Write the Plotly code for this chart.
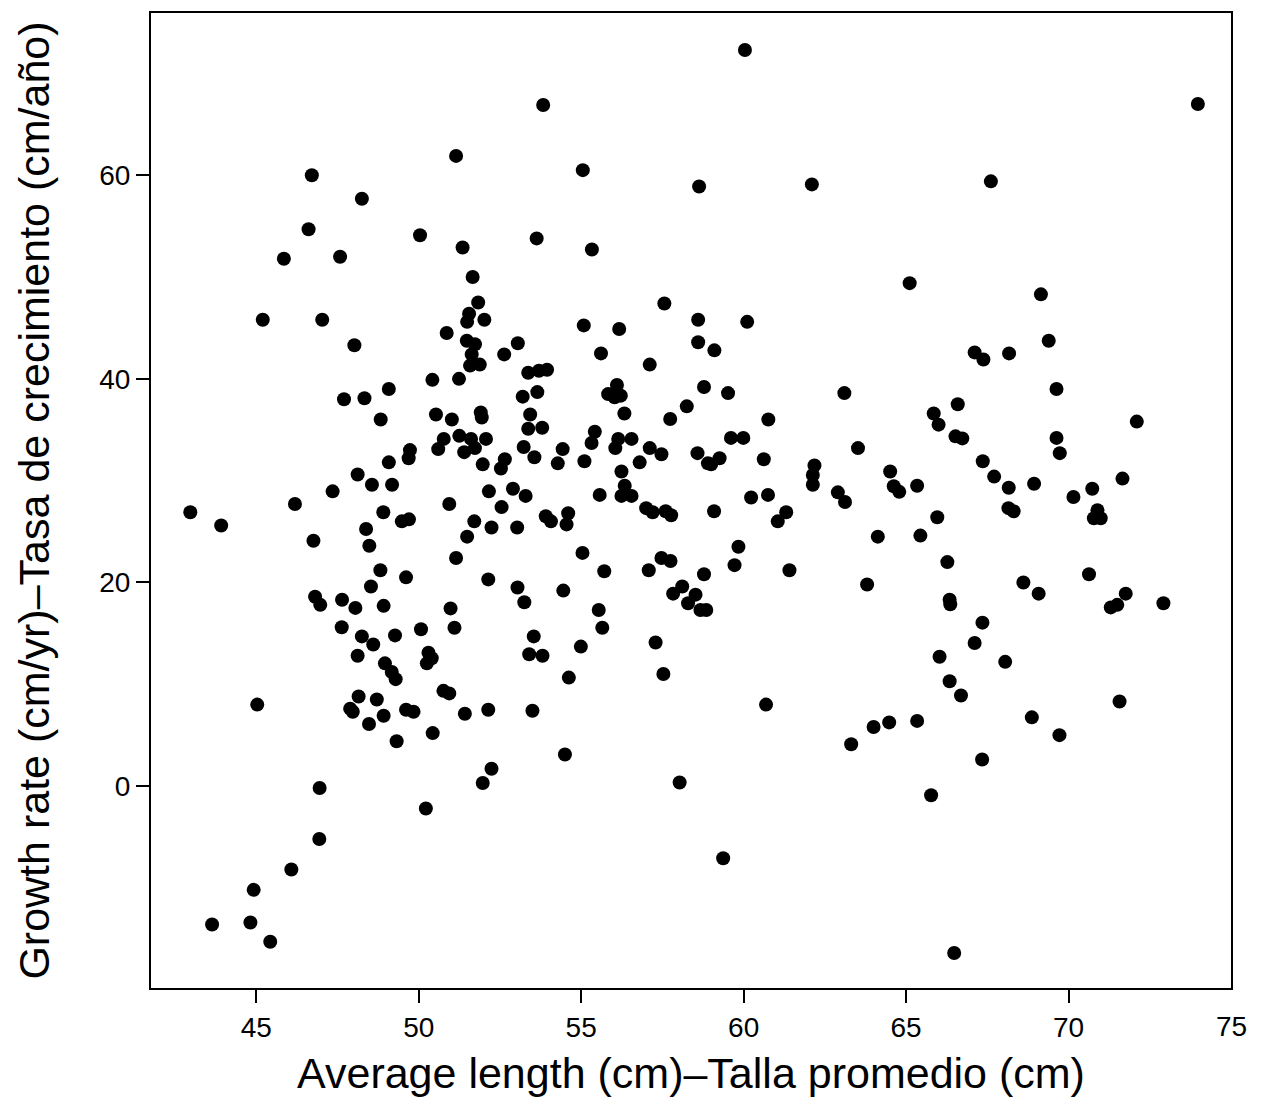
import plotly.graph_objects as go

# Average length (cm) and growth rate (cm/yr)
length_cm = [
    51.15, 46.71, 48.25, 46.61, 50.04, 45.85, 47.58, 51.35, 51.66, 45.2, 47.03, 51.83, 51.55, 51.49, 52.02,
    50.86, 48.02, 51.48, 51.73, 51.63, 51.58, 51.88, 52.63, 50.42, 51.24, 49.08, 47.7, 48.33, 48.83, 50.53,
    51.02, 51.91, 51.94, 50.77, 50.6, 51.25, 51.61, 51.4, 51.73, 52.07, 49.73, 49.69, 49.08, 51.97, 52.65,
    52.53, 48.12, 48.56, 49.18, 47.35, 52.16,
    60.04, 53.83, 55.05, 58.63, 62.1, 53.63, 55.33, 57.56, 55.08, 56.17, 58.6, 60.11, 53.05, 58.6, 59.1,
    55.61, 57.11, 53.37, 53.7, 53.95, 53.2, 53.65, 56.1, 55.83, 56.03, 56.22, 58.78, 59.52, 63.1, 53.43,
    56.33, 58.25, 57.74, 60.76, 53.37, 53.8, 55.42, 55.32, 56.14, 56.55, 56.05, 57.11, 57.47, 59.61, 59.99,
    53.23, 54.43, 53.56, 54.28, 55.1, 56.8, 56.24, 58.58, 58.9, 59.0, 59.26, 60.62, 63.52, 62.18, 62.13,
    62.13, 62.9, 63.12, 52.9, 53.29, 55.57, 56.34, 56.24, 56.55, 60.23, 60.75,
    73.98, 67.61, 65.11, 69.15, 69.39, 67.11, 67.38, 68.17, 69.63, 66.59, 65.85, 66.0, 66.52, 66.73, 72.1,
    69.63, 69.73, 67.36, 64.51, 64.62, 64.79, 65.34, 67.71, 68.16, 68.94, 70.73, 71.66, 70.15,
    42.97, 43.92, 46.19, 46.76, 48.91, 49.48, 49.7, 48.38, 48.48, 50.94, 52.55, 51.71, 52.24, 51.49, 51.15,
    52.14, 48.82, 49.61, 48.53, 46.81, 46.97, 47.64, 48.05, 48.92, 50.98, 47.63, 48.25, 48.6, 49.27, 50.07,
    51.1, 48.12, 48.96, 49.17, 49.29, 50.3, 50.4, 50.25, 50.76, 50.94, 45.03, 48.15, 48.71, 47.89, 47.97,
    48.47, 48.92, 49.61, 49.84, 51.42, 52.14, 50.43, 49.32, 52.24, 51.97, 46.95, 50.22, 46.94, 46.08, 44.92,
    43.64, 44.82, 45.43,
    53.03, 53.91, 54.07, 54.6, 54.55, 57.0, 57.2, 57.6, 57.77, 59.09, 61.31, 61.05, 53.04, 53.25, 55.04,
    55.71, 54.45, 57.47, 57.75, 57.08, 58.78, 59.84, 59.72, 61.41, 63.8, 58.11, 57.83, 58.52, 58.29, 58.67,
    58.85, 55.54, 55.65, 53.54, 53.4, 53.81, 54.99, 57.29, 54.62, 57.53, 60.69, 64.0, 63.31, 53.5, 54.5,
    58.03, 59.37,
    68.15, 68.31, 70.89, 70.78, 70.99, 65.96, 64.13, 65.44, 66.27, 68.61, 69.08, 70.63, 66.34, 66.36, 71.76,
    71.3, 71.5, 72.92, 67.35, 67.11, 66.03, 68.05, 66.34, 66.69, 71.57, 64.48, 65.34, 68.87, 69.72, 67.34,
    65.77, 66.48,
]
growth_cm_yr = [
    61.9, 60.0, 57.7, 54.7, 54.1, 51.8, 52.0, 52.9, 50.0, 45.8, 45.8, 47.5, 46.4, 45.6, 45.8,
    44.5, 43.3, 43.75, 43.4, 42.4, 41.3, 41.4, 42.4, 39.9, 40.0, 39.0, 38.0, 38.1, 36.0, 36.5,
    36.0, 36.7, 36.2, 34.1, 33.1, 34.4, 34.1, 32.8, 33.2, 34.1, 33.0, 32.2, 31.8, 31.6, 32.1,
    31.2, 30.6, 29.6, 29.6, 28.95, 28.95,
    72.3, 66.9, 60.5, 58.9, 59.1, 53.8, 52.7, 47.4, 45.25, 44.9, 45.8, 45.6, 43.5, 43.6, 42.8,
    42.5, 41.4, 40.6, 40.8, 40.9, 38.25, 38.7, 39.4, 38.5, 38.2, 38.35, 39.2, 38.6, 38.6, 36.5,
    36.6, 37.3, 36.05, 36.0, 35.1, 35.2, 34.8, 33.7, 34.1, 34.1, 33.2, 33.2, 32.6, 34.2, 34.2,
    33.3, 33.1, 32.3, 31.7, 31.9, 31.8, 30.9, 32.7, 31.7, 31.6, 32.2, 32.1, 33.2, 31.5, 30.55,
    29.6, 28.85, 27.9, 29.2, 28.5, 28.6, 29.5, 28.5, 28.5, 28.35, 28.6,
    67.0, 59.4, 49.4, 48.3, 43.75, 42.6, 41.9, 42.5, 39.0, 37.5, 36.6, 35.5, 34.35, 34.15, 35.8,
    34.2, 32.7, 31.9, 30.9, 29.45, 28.9, 29.5, 30.4, 29.3, 29.7, 29.2, 30.2, 28.4,
    26.9, 25.6, 27.7, 24.1, 26.9, 26.0, 26.2, 25.25, 23.6, 27.7, 27.4, 26.0, 25.4, 24.5, 22.4,
    20.3, 21.2, 20.5, 19.6, 18.6, 17.8, 18.3, 17.5, 17.7, 17.45, 15.6, 14.7, 13.9, 14.8, 15.4,
    15.55, 12.8, 12.05, 11.2, 10.5, 13.1, 12.55, 12.05, 9.35, 9.1, 8.0, 8.8, 8.5, 7.6, 7.3,
    6.1, 6.9, 7.5, 7.3, 7.1, 7.5, 5.2, 4.4, 1.7, 0.3, -0.2, -2.2, -5.2, -8.2, -10.2,
    -13.6, -13.4, -15.3,
    25.4, 26.5, 26.0, 26.8, 25.7, 27.3, 26.9, 27.0, 26.6, 27.0, 26.9, 26.0, 19.5, 18.05, 22.9,
    21.1, 19.2, 22.4, 22.1, 21.2, 20.8, 23.5, 21.7, 21.2, 19.8, 19.6, 18.9, 18.8, 17.95, 17.3,
    17.3, 17.3, 15.55, 14.7, 12.95, 12.8, 13.7, 14.1, 10.65, 11.0, 8.0, 5.8, 4.1, 7.4, 3.1,
    0.35, -7.1,
    27.3, 27.0, 27.1, 26.3, 26.3, 26.4, 24.5, 24.6, 22.0, 20.0, 18.9, 20.8, 18.3, 17.85, 18.9,
    17.55, 17.8, 17.95, 16.05, 14.05, 12.7, 12.2, 10.3, 8.9, 8.3, 6.25, 6.4, 6.75, 5.0, 2.6,
    -0.9, -16.4,
]

x_ticks = [45, 50, 55, 60, 65, 70]
y_ticks = [0, 20, 40, 60]
x_title = "Average length (cm)\u2013Talla promedio (cm)"
y_title = "Growth rate (cm/yr)\u2013Tasa de crecimiento (cm/a\u00f1o)"

FONT = "Arial, 'Liberation Sans', sans-serif"

fig = go.Figure(
    go.Scatter(
        x=length_cm,
        y=growth_cm_yr,
        mode="markers",
        marker=dict(size=14, color="black", line=dict(width=0)),
        hoverinfo="x+y",
    )
)

axis_common = dict(
    showline=True,
    linecolor="black",
    linewidth=2,
    mirror=True,
    showgrid=False,
    zeroline=False,
    ticks="outside",
    ticklen=13,
    tickwidth=2,
    tickcolor="black",
    tickfont=dict(family=FONT, size=28, color="black"),
)

fig.update_layout(
    width=1263,
    height=1103,
    margin=dict(l=151, r=32, t=13, b=115),
    paper_bgcolor="white",
    plot_bgcolor="white",
    showlegend=False,
    font=dict(family=FONT, color="black"),
    xaxis=dict(
        range=[41.76, 75.0],
        tickvals=x_ticks,
        title=dict(text=x_title, font=dict(family=FONT, size=43, color="black"), standoff=16),
        **axis_common,
    ),
    yaxis=dict(
        range=[-19.84, 75.94],
        tickvals=y_ticks,
        title=dict(text=y_title, font=dict(family=FONT, size=43, color="black"), standoff=36),
        **axis_common,
    ),
    annotations=[
        dict(
            text="75",
            x=75,
            xref="x",
            y=0,
            yref="paper",
            yanchor="top",
            xanchor="center",
            yshift=-21,
            showarrow=False,
            font=dict(family=FONT, size=28, color="black"),
        )
    ],
)

fig.write_html("out.html")
